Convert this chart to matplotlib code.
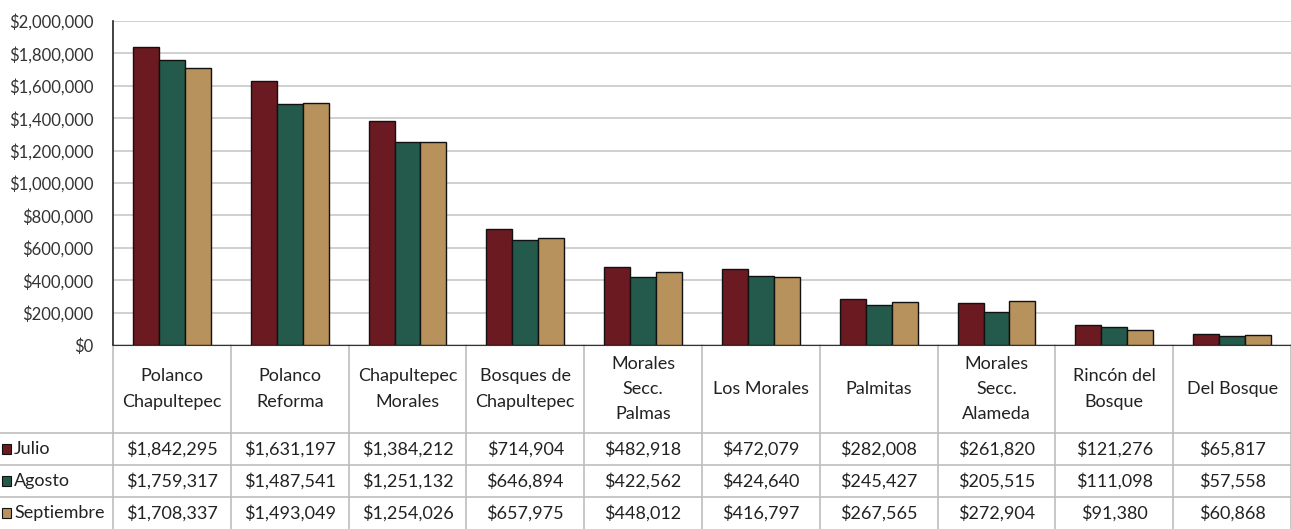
import numpy as np
import matplotlib.pyplot as plt
from matplotlib.patches import Rectangle

# ---- DATA ---- #
colonias = ['Polanco\nChapultepec', 'Polanco\nReforma', 'Chapultepec\nMorales',
            'Bosques de\nChapultepec', 'Morales\nSecc.\nPalmas', 'Los Morales',
            'Palmitas', 'Morales\nSecc.\nAlameda', 'Rincón del\nBosque', 'Del Bosque']
julio = [1842295, 1631197, 1384212, 714904, 482918, 472079, 282008, 261820, 121276, 65817]
agosto = [1759317, 1487541, 1251132, 646894, 422562, 424640, 245427, 205515, 111098, 57558]
septiembre = [1708337, 1493049, 1254026, 657975, 448012, 416797, 267565, 272904, 91380, 60868]
series = ['Julio', 'Agosto', 'Septiembre']
colores = ['#6A1A20', '#245A4B', '#B8925C']

plt.rcParams['font.family'] = ['Lato', 'DejaVu Sans']

# ---- PLOTTING ---- #
fig = plt.figure(figsize=(12.91, 5.29), dpi=100)
ax = fig.add_axes([113/1291, 1 - 345/529, 1 - 113/1291, 324/529])

x = np.arange(len(colonias))
w = 0.22
for i, (vals, c) in enumerate(zip([julio, agosto, septiembre], colores)):
    ax.bar(x + (i - 1) * w, vals, width=w, color=c, edgecolor='#111111',
           linewidth=1.0, zorder=3)

ax.set_xlim(-0.5, len(colonias) - 0.5)
ax.set_ylim(0, 2000000)
ax.set_yticks(np.arange(0, 2000001, 200000))
ax.set_yticklabels(['${:,.0f}'.format(v) for v in ax.get_yticks()], fontsize=12,
                   color='#333333')
ax.set_xticks([])
ax.tick_params(axis='y', length=0, pad=14)
ax.grid(axis='y', color='#C8C8C8', linewidth=1.2, zorder=0)
for s in ['top', 'right']:
    ax.spines[s].set_visible(False)
ax.spines['left'].set_color('#222222')
ax.spines['bottom'].set_color('#333333')
ax.spines['left'].set_linewidth(1.2)

# ---- DATA TABLE ---- #
trans = ax.get_xaxis_transform()
hdr = -88/324
row_h = 32/324
rows_y = [hdr - row_h * k for k in range(4)]
gcol = '#BDBDBD'

for k in range(len(colonias) + 1):
    ax.plot([k - 0.5, k - 0.5], [0, rows_y[-1]], transform=trans, color=gcol,
            linewidth=1.2, clip_on=False)
for yy in rows_y[:3]:
    fig.add_artist(plt.Line2D([0, 1], [1 - (345 - yy * 324) / 529] * 2,
                              color=gcol, linewidth=1.2))

for k, name in enumerate(colonias):
    ax.text(k, hdr / 2, name, transform=trans, ha='center', va='center',
            fontsize=13, color='#222222', linespacing=1.7)

for r, (vals, nombre, c) in enumerate(zip([julio, agosto, septiembre], series, colores)):
    yc = (rows_y[r] + rows_y[r + 1]) / 2
    for k, v in enumerate(vals):
        ax.text(k, yc, '${:,.0f}'.format(v), transform=trans, ha='center',
                va='center', fontsize=13, color='#222222')
    yfig = 1 - (345 - yc * 324) / 529
    fig.add_artist(Rectangle((2/1291, yfig - 5/529), 9/1291, 10/529,
                             facecolor=c, edgecolor='#111111', linewidth=0.8))
    fig.text(14/1291, yfig, nombre, ha='left', va='center', fontsize=13,
             color='#222222')

plt.savefig('out.png', dpi=100)
